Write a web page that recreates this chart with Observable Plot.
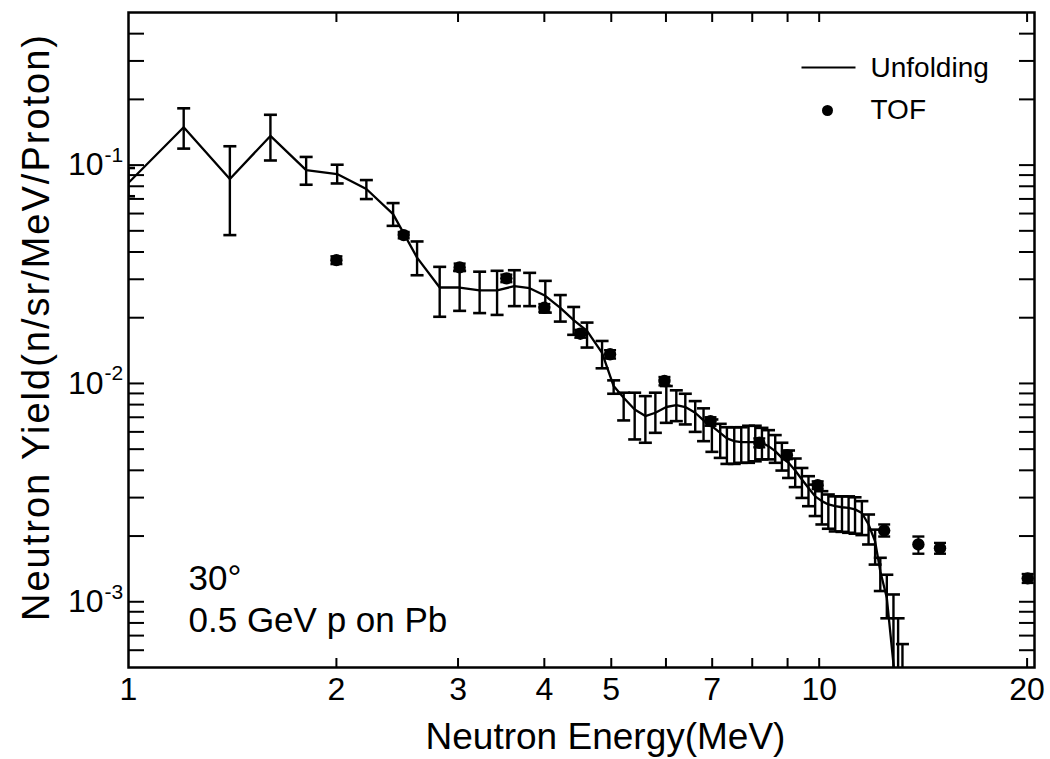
<!DOCTYPE html>
<html><head><meta charset="utf-8">
<script src="https://cdn.jsdelivr.net/npm/d3@7"></script>
<script src="https://cdn.jsdelivr.net/npm/@observablehq/plot@0.6"></script>
<style>html,body{margin:0;padding:0;background:#fff} svg{display:block}</style>
</head><body><div id="chart"></div><script>
// ---- Data ----
const unfE = [1.0, 1.202, 1.402, 1.605, 1.808, 2.005, 2.21, 2.416, 2.617, 2.822, 3.016, 3.224, 3.417, 3.62, 3.809, 4.013, 4.219, 4.411, 4.612, 4.849, 5.04, 5.211, 5.406, 5.602, 5.792, 6.007, 6.211, 6.4, 6.615, 6.801, 6.993, 7.19, 7.352, 7.534, 7.712, 7.902, 8.081, 8.263, 8.446, 8.637, 8.831, 9.029, 9.232, 9.441, 9.65, 9.867, 10.09, 10.31, 10.55, 10.79, 11.03, 11.27, 11.53, 11.79, 12.05, 12.26, 12.53, 12.81, 13.01, 13.2];
const unfY = [0.083, 0.149, 0.0863, 0.136, 0.0949, 0.091, 0.0777, 0.0596, 0.0377, 0.0275, 0.0275, 0.0267, 0.0267, 0.0279, 0.0273, 0.0252, 0.0222, 0.0195, 0.0174, 0.0138, 0.00973, 0.0086, 0.0076, 0.00709, 0.00734, 0.0078, 0.00796, 0.0078, 0.00734, 0.00677, 0.00637, 0.00594, 0.0056, 0.00544, 0.00538, 0.00538, 0.00538, 0.00535, 0.00516, 0.0049, 0.00456, 0.00433, 0.00399, 0.00363, 0.00332, 0.00304, 0.00289, 0.00279, 0.00274, 0.00271, 0.00269, 0.00265, 0.00255, 0.00226, 0.00189, 0.00138, 0.00104, 0.00052, 0.0003, 0.0002];
const unfLo = [0.072, 0.119, 0.0478, 0.105, 0.0813, 0.0824, 0.0699, 0.0527, 0.0313, 0.0202, 0.0215, 0.021, 0.0206, 0.0226, 0.0226, 0.0211, 0.0192, 0.0167, 0.0146, 0.01173, 0.00897, 0.00677, 0.00554, 0.00535, 0.00594, 0.0066, 0.00672, 0.00649, 0.006, 0.00544, 0.00486, 0.00456, 0.00428, 0.00428, 0.00433, 0.00433, 0.0044, 0.00449, 0.00449, 0.00433, 0.00399, 0.00369, 0.00335, 0.00299, 0.00274, 0.00247, 0.00226, 0.00216, 0.0021, 0.00209, 0.00207, 0.00205, 0.00202, 0.00183, 0.00148, 0.00112, 0.00084, 0.0004, 0.0002, 0.0001];
const unfHi = [0.097, 0.182, 0.122, 0.170, 0.109, 0.1004, 0.0854, 0.067, 0.0447, 0.0342, 0.0328, 0.0325, 0.0328, 0.033, 0.0321, 0.0295, 0.0254, 0.0224, 0.019, 0.01565, 0.01033, 0.00907, 0.00907, 0.00875, 0.00907, 0.00973, 0.0093, 0.00897, 0.0083, 0.00769, 0.00684, 0.00653, 0.0063, 0.0063, 0.0063, 0.0064, 0.0064, 0.00626, 0.00611, 0.0058, 0.00535, 0.00493, 0.00453, 0.0041, 0.00376, 0.00344, 0.00321, 0.0031, 0.00304, 0.00304, 0.00304, 0.00301, 0.00289, 0.00251, 0.00214, 0.00159, 0.00133, 0.00108, 0.00084, 0.00064];

const tofE  = [2.0, 2.503, 3.016, 3.524, 4.0, 4.51, 4.98, 5.97, 6.96, 8.19, 8.98, 9.95, 12.42, 13.92, 14.96, 20.04];
const tofY  = [0.0367, 0.0478, 0.034, 0.0303, 0.0222, 0.0169, 0.0136, 0.01026, 0.00672, 0.00535, 0.00469, 0.00342, 0.00212, 0.00183, 0.00176, 0.00128];
const tofLo = [0.0352, 0.0462, 0.0327, 0.0291, 0.0213, 0.0162, 0.0130, 0.0098, 0.0064, 0.0051, 0.0045, 0.00328, 0.00199, 0.00166, 0.00166, 0.00122];
const tofHi = [0.0382, 0.0494, 0.0354, 0.0315, 0.0231, 0.0176, 0.0142, 0.0107, 0.0070, 0.0056, 0.0049, 0.00356, 0.00226, 0.00199, 0.00186, 0.00134];

const xTickLabels = [1, 2, 3, 4, 5, 7, 10, 20];
const xTickMarks = [2, 3, 4, 5, 6, 7, 8, 9, 10, 20];
const yMajor = [1e-3, 1e-2, 1e-1];
const yExponents = ["-3", "-2", "-1"];
const yTickMarks = [6e-4, 7e-4, 8e-4, 9e-4, 1e-3, 2e-3, 3e-3, 4e-3, 5e-3, 6e-3, 7e-3, 8e-3, 9e-3,
  1e-2, 2e-2, 3e-2, 4e-2, 5e-2, 6e-2, 7e-2, 8e-2, 9e-2, 1e-1, 2e-1, 3e-1, 4e-1];

const seriesNames = ["Unfolding", "TOF"];
const xTitle = "Neutron Energy(MeV)";
const yTitle = "Neutron Yield(n/sr/MeV/Proton)";
const notes = ["30°", "0.5 GeV p on Pb"];

// ---- Tables ----
const unfolding = unfE.map((E, i) => ({E, y: unfY[i], lo: unfLo[i], hi: unfHi[i]}));
const tof = tofE.map((E, i) => ({E, y: tofY[i], lo: tofLo[i], hi: tofHi[i]}));
const yLabelTable = yMajor.map((v, i) => ({v, exp: yExponents[i]}));

const hLine = {draw(ctx, size) { const r = Math.sqrt(size / Math.PI); ctx.moveTo(-r, 0); ctx.lineTo(r, 0); }};
const FONT = "'Liberation Sans', Arial, Helvetica, sans-serif";

const chart = Plot.plot({
  width: 1050, height: 759,
  marginLeft: 128, marginRight: 16, marginTop: 12, marginBottom: 92,
  style: {fontFamily: FONT, background: "white", color: "black", overflow: "visible"},
  x: {type: "log", domain: [1, 20.5], axis: null},
  y: {type: "log", domain: [5e-4, 0.5], axis: null},
  marks: [
    // Unfolding error bars + line
    Plot.ruleX(unfolding, {x: "E", y1: "lo", y2: "hi", stroke: "black", strokeWidth: 2.4, clip: true}),
    Plot.dot(unfolding, {x: "E", y: "hi", symbol: hLine, r: 6.5, stroke: "black", fill: "none", strokeWidth: 2.6, clip: true}),
    Plot.dot(unfolding, {x: "E", y: "lo", symbol: hLine, r: 6.5, stroke: "black", fill: "none", strokeWidth: 2.6, clip: true}),
    Plot.line(unfolding, {x: "E", y: "y", stroke: "black", strokeWidth: 2.3, clip: true}),
    // TOF
    Plot.ruleX(tof, {x: "E", y1: "lo", y2: "hi", stroke: "black", strokeWidth: 2}),
    Plot.dot(tof, {x: "E", y: "hi", symbol: hLine, r: 6, stroke: "black", fill: "none", strokeWidth: 2.4}),
    Plot.dot(tof, {x: "E", y: "lo", symbol: hLine, r: 6, stroke: "black", fill: "none", strokeWidth: 2.4}),
    Plot.dot(tof, {x: "E", y: "y", r: 6.2, fill: "black", stroke: "none"}),
    // inward ticks on all sides
    Plot.axisX(xTickMarks, {anchor: "bottom", tickSize: -9, tickFormat: () => "", label: null, strokeWidth: 2}),
    Plot.axisX(xTickMarks, {anchor: "top", tickSize: -9, tickFormat: () => "", label: null, strokeWidth: 2}),
    Plot.axisY(yTickMarks, {anchor: "left", tickSize: -16, tickFormat: () => "", label: null, strokeWidth: 2}),
    Plot.axisY(yTickMarks, {anchor: "right", tickSize: -16, tickFormat: () => "", label: null, strokeWidth: 2}),
    // x tick labels
    Plot.axisX(xTickLabels, {anchor: "bottom", tickSize: 0, tickPadding: 10, fontSize: 32, tickFormat: d => String(d), label: null}),
    // y tick labels 10^n
    Plot.text(yLabelTable, {y: "v", frameAnchor: "left", text: () => "10", textAnchor: "end", lineAnchor: "middle", dx: -25, fontSize: 32, fill: "black"}),
    Plot.text(yLabelTable, {y: "v", frameAnchor: "left", text: "exp", textAnchor: "start", lineAnchor: "middle", dx: -24, dy: -10, fontSize: 21, fill: "black"}),
    Plot.frame({stroke: "black", strokeWidth: 2.5}),
    // axis titles
    Plot.text([xTitle], {frameAnchor: "bottom", text: d => d, textAnchor: "middle", lineAnchor: "middle", dx: 24, dy: 70, fontSize: 37, fill: "black"}),
    Plot.text([yTitle], {frameAnchor: "left", text: d => d, rotate: -90, textAnchor: "middle", lineAnchor: "middle", dx: -92, dy: -13, fontSize: 38, fill: "black"}),
    // legend
    Plot.dot([seriesNames[0]], {x: null, y: null, frameAnchor: "top-left", dx: 700, dy: 55, symbol: hLine, r: 27, stroke: "black", fill: "none", strokeWidth: 2}),
    Plot.text([seriesNames[0]], {frameAnchor: "top-left", text: d => d, dx: 742, dy: 56, textAnchor: "start", lineAnchor: "middle", fontSize: 28, fill: "black"}),
    Plot.dot([seriesNames[1]], {x: null, y: null, frameAnchor: "top-left", dx: 699, dy: 98, r: 5.5, fill: "black", stroke: "none"}),
    Plot.text([seriesNames[1]], {frameAnchor: "top-left", text: d => d, dx: 742, dy: 98, textAnchor: "start", lineAnchor: "middle", fontSize: 28, fill: "black"}),
    // annotations
    Plot.text([notes[0]], {frameAnchor: "bottom-left", text: d => d, dx: 60, dy: -89, textAnchor: "start", lineAnchor: "middle", fontSize: 35, fill: "black"}),
    Plot.text([notes[1]], {frameAnchor: "bottom-left", text: d => d, dx: 60, dy: -47, textAnchor: "start", lineAnchor: "middle", fontSize: 35, fill: "black"})
  ]
});
d3.select(chart).selectAll("text").filter(function() { return this.textContent === yTitle; }).style("letter-spacing", "2px");
document.getElementById("chart").appendChild(chart);
</script></body></html>
